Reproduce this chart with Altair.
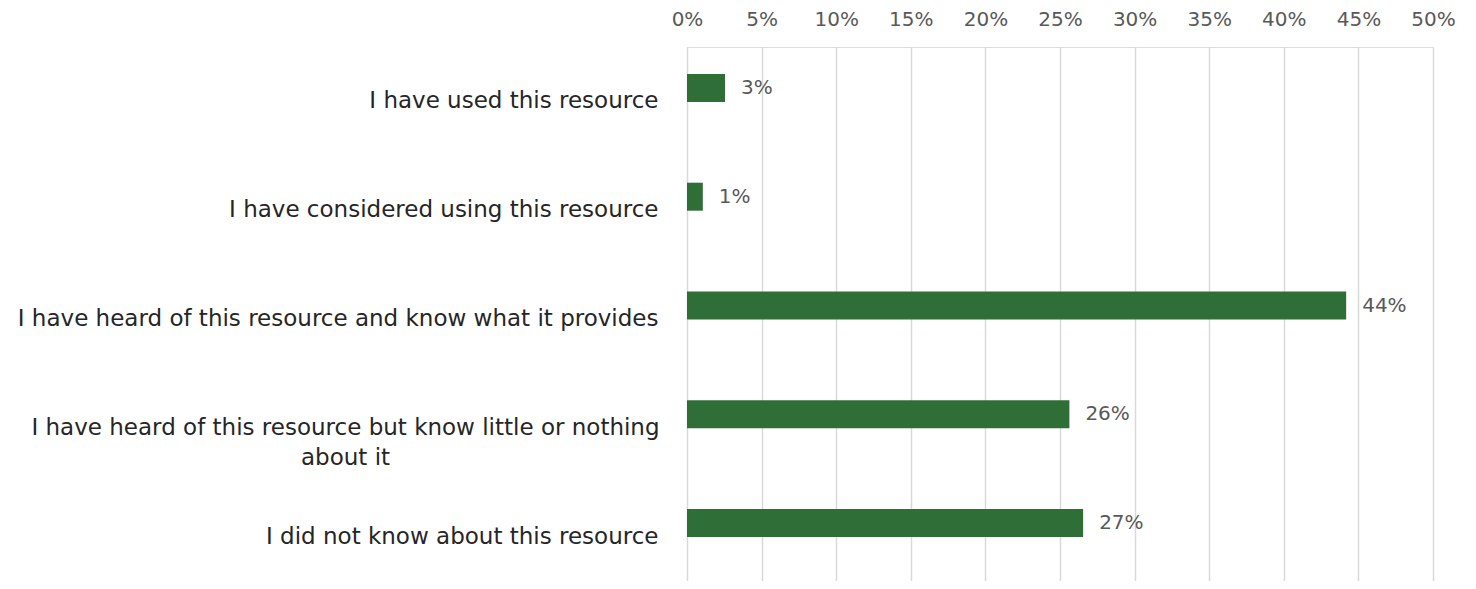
import altair as alt
import pandas as pd

categories = [
    "I have used this resource",
    "I have considered using this resource",
    "I have heard of this resource and know what it provides",
    "I have heard of this resource but know little or nothing\nabout it",
    "I did not know about this resource",
]
values = [0.0255, 0.0106, 0.4418, 0.2563, 0.2655]
tick_values = [0.0, 0.05, 0.10, 0.15, 0.20, 0.25, 0.30, 0.35, 0.40, 0.45, 0.50]

df = pd.DataFrame({"category": categories, "value": values})

FONT = "DejaVu Sans"
BAR_COLOR = "#306E38"

wrapped = "indexof(datum.value, '\\n') >= 0"

base = alt.Chart(df).encode(
    y=alt.Y(
        "category:N",
        sort=categories,
        title=None,
        scale=alt.Scale(range=[0, 544], paddingInner=0, paddingOuter=0),
        axis=alt.Axis(
            domain=False,
            ticks=False,
            labelFont=FONT,
            labelFontSize=23,
            labelColor="#262626",
            labelLimit=0,
            labelLineHeight=30,
            labelBaseline="middle",
            labelExpr="split(datum.label, '\\n')",
            labelAlign={"condition": {"test": wrapped, "value": "center"}, "value": "right"},
            labelPadding={"condition": {"test": wrapped, "value": 342}, "value": 29},
        ),
    ),
    x=alt.X(
        "value:Q",
        title=None,
        scale=alt.Scale(domain=[0, 0.5], nice=False),
        axis=alt.Axis(
            orient="top",
            values=tick_values,
            format=".0%",
            domain=False,
            ticks=False,
            grid=True,
            gridColor="#D9D9D9",
            gridWidth=1.5,
            labelFont=FONT,
            labelFontSize=20,
            labelColor="#595959",
            labelPadding=18,
            labelFlush=False,
        ),
    ),
)

bars = base.mark_bar(height=28, yOffset=-13.5, color=BAR_COLOR)

labels = base.mark_text(
    align="left",
    baseline="middle",
    dx=16,
    yOffset=-13.5,
    font=FONT,
    fontSize=20,
    color="#595959",
).encode(text=alt.Text("value:Q", format=".0%"))

chart = (
    alt.layer(bars, labels)
    .properties(
        width=746,
        height=534,
        autosize=alt.AutoSizeParams(type="none"),
        padding={"left": 679, "top": 39, "right": 35, "bottom": 0},
    )
    .configure_view(stroke=None)
    .configure(background="white")
)

chart.save("out.html", embed_options={"renderer": "svg", "actions": False})
